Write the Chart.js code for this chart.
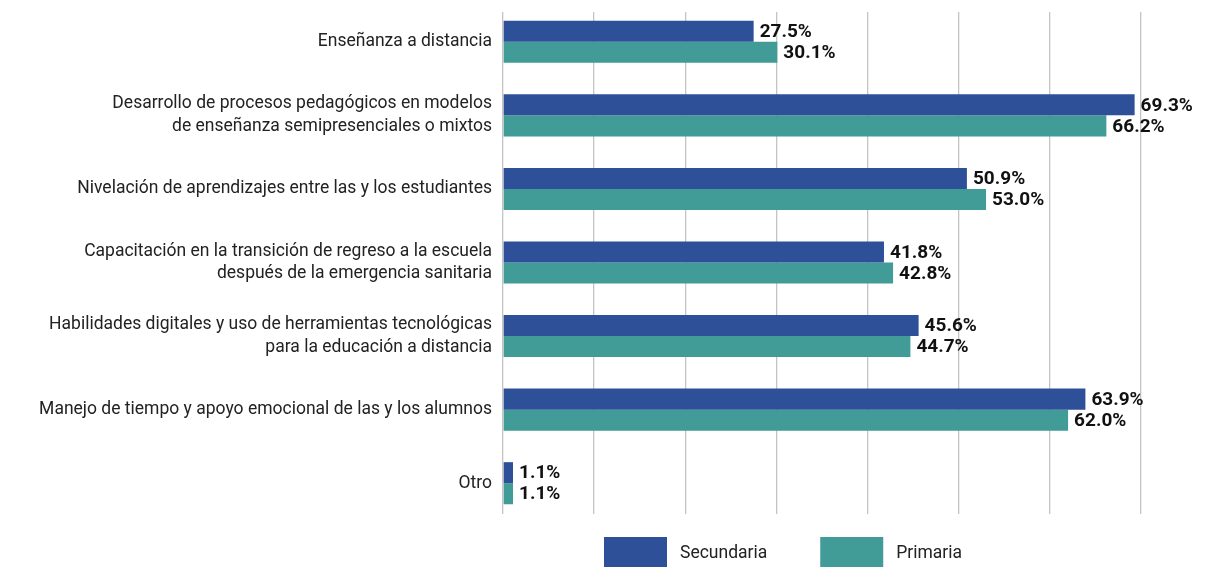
<!DOCTYPE html>
<html>
<head>
<meta charset="utf-8">
<script src="https://cdn.jsdelivr.net/npm/chart.js@4/dist/chart.umd.min.js"></script>
<style>
html,body{margin:0;padding:0;background:#fff;overflow:hidden;}
#wrap{position:relative;width:1232px;height:567px;}
</style>
</head>
<body>
<div id="wrap"><canvas id="c"></canvas></div>
<script>
const categories = [
  "Enseñanza a distancia",
  ["Desarrollo de procesos pedagógicos en modelos", "de enseñanza semipresenciales o mixtos"],
  "Nivelación de aprendizajes entre las y los estudiantes",
  ["Capacitación en la transición de regreso a la escuela", "después de la emergencia sanitaria"],
  ["Habilidades digitales y uso de herramientas tecnológicas", "para la educación a distancia"],
  "Manejo de tiempo y apoyo emocional de las y los alumnos",
  "Otro"
];
const secundaria = [27.5, 69.3, 50.9, 41.8, 45.6, 63.9, 1.1];
const primaria = [30.1, 66.2, 53.0, 42.8, 44.7, 62.0, 1.1];
const seriesNames = ["Secundaria", "Primaria"];
const seriesColors = ["#2D5098", "#419B97"];

const gridTrim = {
  id: 'gridTrim',
  beforeDatasetsDraw(chart) {
    const a = chart.chartArea, ctx = chart.ctx;
    ctx.save();
    ctx.fillStyle = '#fff';
    ctx.fillRect(a.left - 2, a.top - 1, a.right - a.left + 4, 8);
    ctx.fillRect(a.left - 2, a.bottom - 6, a.right - a.left + 4, 8);
    ctx.restore();
  }
};

const valueLabels = {
  id: 'valueLabels',
  afterDatasetsDraw(chart) {
    const ctx = chart.ctx;
    ctx.save();
    ctx.font = 'bold 19px Roboto';
    ctx.fillStyle = '#111';
    ctx.textAlign = 'left';
    ctx.textBaseline = 'middle';
    chart.data.datasets.forEach((ds, i) => {
      const meta = chart.getDatasetMeta(i);
      meta.data.forEach((bar, j) => {
        ctx.fillText(ds.data[j].toFixed(1) + '%', bar.x + 6, bar.y + 1);
      });
    });
    ctx.restore();
  }
};

const customLegend = {
  id: 'customLegend',
  afterDraw(chart) {
    const ctx = chart.ctx;
    ctx.save();
    ctx.font = '17.5px Roboto';
    ctx.textBaseline = 'middle';
    ctx.textAlign = 'left';
    let x = 604;
    const top = 537, h = 32, w = 63;
    chart.data.datasets.forEach((ds) => {
      ctx.fillStyle = ds.backgroundColor;
      ctx.fillRect(x, top, w, h);
      ctx.fillStyle = '#222';
      const tx = x + w + 13;
      ctx.fillText(ds.label, tx, top + 17);
      x = tx + ctx.measureText(ds.label).width + 53;
    });
    ctx.restore();
  }
};

new Chart(document.getElementById('c'), {
  type: 'bar',
  data: {
    labels: categories,
    datasets: [
      { label: seriesNames[0], data: secundaria, backgroundColor: seriesColors[0] },
      { label: seriesNames[1], data: primaria, backgroundColor: seriesColors[1] }
    ]
  },
  options: {
    indexAxis: 'y',
    responsive: true,
    maintainAspectRatio: false,
    animation: false,
    layout: { padding: { top: 5, right: 91, bottom: 47, left: 0 } },
    datasets: { bar: { categoryPercentage: 0.572, barPercentage: 1.0 } },
    plugins: {
      legend: { display: false },
      tooltip: { enabled: false }
    },
    scales: {
      x: {
        min: 0, max: 70,
        ticks: { display: false, stepSize: 10 },
        grid: { color: '#c4c4c4', lineWidth: 1.3, drawTicks: false },
        border: { display: false }
      },
      y: {
        ticks: {
          color: '#222',
          font: { family: 'Roboto', size: 17.5, lineHeight: 1.3 },
          padding: 11
        },
        grid: { display: false, drawTicks: false },
        border: { display: false },
        afterFit(scale) {
          scale.width = 503;
          scale.paddingTop = 0;
          scale.paddingBottom = 0;
        }
      }
    }
  },
  plugins: [gridTrim, valueLabels, customLegend]
});
</script>
</body>
</html>
